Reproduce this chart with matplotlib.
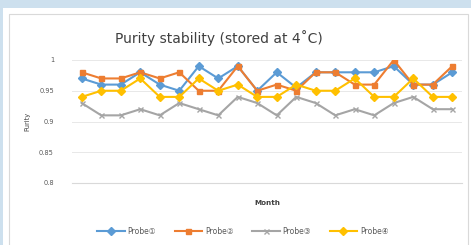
import matplotlib.pyplot as plt
from matplotlib.patches import Rectangle

# values (20 months)
months = list(range(1, 21))
probe1 = [0.97, 0.96, 0.96, 0.98, 0.96, 0.95, 0.99, 0.97, 0.99, 0.95,
          0.98, 0.955, 0.98, 0.98, 0.98, 0.98, 0.99, 0.96, 0.96, 0.98]
probe2 = [0.98, 0.97, 0.97, 0.98, 0.97, 0.98, 0.95, 0.95, 0.99, 0.95,
          0.96, 0.95, 0.98, 0.98, 0.96, 0.96, 1.00, 0.96, 0.96, 0.99]
probe3 = [0.93, 0.91, 0.91, 0.92, 0.91, 0.93, 0.92, 0.91, 0.94, 0.93,
          0.91, 0.94, 0.93, 0.91, 0.92, 0.91, 0.93, 0.94, 0.92, 0.92]
probe4 = [0.94, 0.95, 0.95, 0.97, 0.94, 0.94, 0.97, 0.95, 0.96, 0.94,
          0.94, 0.96, 0.95, 0.95, 0.97, 0.94, 0.94, 0.97, 0.94, 0.94]
labels = ['Probe①', 'Probe②', 'Probe③', 'Probe④']
yticks = [0.8, 0.85, 0.9, 0.95, 1.0]
ytick_labels = ['0.8', '0.85', '0.9', '0.95', '1']

colors = ['#5B9BD5', '#ED7D31', '#A5A5A5', '#FFC000']
markers = ['D', 's', 'x', 'D']

plt.rcParams['font.family'] = ['DejaVu Sans', 'Noto Sans CJK SC']

W, H = 471, 245
fig = plt.figure(figsize=(W / 100, H / 100), dpi=100)
fig.patch.set_facecolor('#CDE0EE')

# white chart panel and its thin border, on a background axes
bg = fig.add_axes([0, 0, 1, 1])
bg.set_xlim(0, W)
bg.set_ylim(H, 0)
bg.axis('off')
bg.add_patch(Rectangle((3, 8), W, H, facecolor='white', edgecolor='none'))
bg.add_patch(Rectangle((9, 14), 459, H, facecolor='none',
                       edgecolor='#D9D9D9', linewidth=0.8))

ax = fig.add_axes([72 / W, 1 - 183 / H, (462 - 72) / W, (183 - 60) / H])
ax.set_zorder(2)
ax.set_facecolor('white')

for vals, lab, c, m in zip([probe1, probe2, probe3, probe4], labels, colors, markers):
    ax.plot(months, vals, color=c, marker=m, markersize=3.6, linewidth=1.5,
            markeredgewidth=1.0, label=lab)

ax.set_xlim(0.5, 20.5)
ax.set_ylim(0.8, 1.0)
ax.set_yticks(yticks)
ax.set_yticklabels(ytick_labels, fontsize=4.8, color='#595959')
ax.set_xticks([])
ax.tick_params(axis='y', length=0, pad=13)
ax.grid(axis='y', color='#E8E8E8', linewidth=0.7)
ax.set_axisbelow(True)
for side in ['top', 'right', 'left']:
    ax.spines[side].set_visible(False)
ax.spines['bottom'].set_color('#D9D9D9')

ax.set_ylabel('Purity', fontsize=4.8, color='#404040', labelpad=6)
ax.set_xlabel('Month', fontsize=5.2, color='#404040', fontweight='bold', labelpad=12)
fig.text(219 / W, 1 - 38 / H, 'Purity stability (stored at 4˚C)',
         ha='center', va='center', fontsize=10, color='#404040')

fig.legend(loc='center', bbox_to_anchor=(243 / W, 1 - 231 / H), ncol=4,
           fontsize=5.5, frameon=False, handlelength=3.6, columnspacing=2.4,
           handletextpad=0.4, labelcolor='#595959')

fig.savefig('out.png', dpi=100, facecolor=fig.get_facecolor())
